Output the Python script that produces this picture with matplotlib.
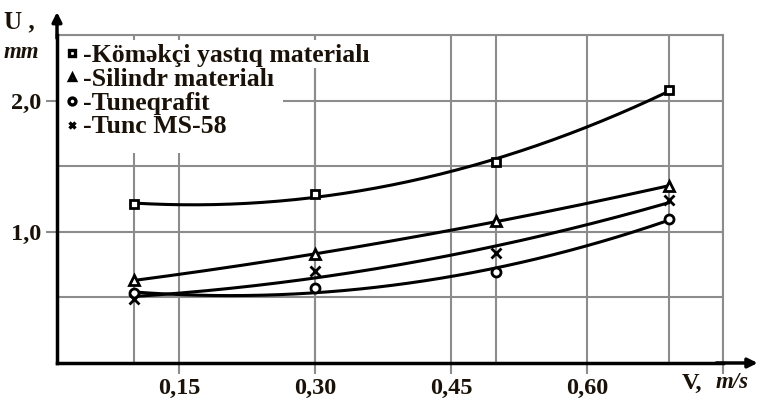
import numpy as np
import matplotlib.pyplot as plt
from matplotlib.lines import Line2D
from matplotlib.patches import Rectangle

plt.rcParams['font.family'] = ['Liberation Serif', 'DejaVu Serif']
plt.rcParams['font.weight'] = 'bold'

# sliding speed, m/s
speed = [0.10, 0.30, 0.50, 0.69]

# wear U, mm
wear_pad = [1.21, 1.29, 1.53, 2.08]
wear_cylinder = [0.63, 0.83, 1.08, 1.35]
wear_graphite = [0.53, 0.57, 0.69, 1.10]
wear_bronze = [0.49, 0.70, 0.84, 1.24]

labels = ['Kömәkçi yastıq materialı', 'Silindr materialı', 'Tuneqrafit', 'Tunc MS-58']
markers = ['s', '^', 'o', 'x']
series = [wear_pad, wear_cylinder, wear_graphite, wear_bronze]

xticks = [0.15, 0.30, 0.45, 0.60]
xtick_labels = ['0,15', '0,30', '0,45', '0,60']
yticks = [1.0, 2.0]
ytick_labels = ['1,0', '2,0']

ink = '#1a1208'
grid_c = '#8c8c8c'

fig = plt.figure(figsize=(7.67, 4.03), dpi=100)
ax = fig.add_axes([57 / 767, 40 / 403, 666 / 767, 328 / 403])
ax.set_xlim(0.015, 0.75)
ax.set_ylim(0, 2.5)

# grid: at the tick values and at the measured speeds
for x in xticks + [0.75]:
    ax.axvline(x, color=grid_c, lw=1.5, zorder=1)
for x in speed:
    ax.axvline(x, color=grid_c, lw=1.5, zorder=1)
for y in [0.5, 1.0, 1.5, 2.0, 2.5]:
    ax.axhline(y, color=grid_c, lw=1.5, zorder=1)

# white area behind the legend
ax.add_patch(Rectangle((0, 0.64), 0.339, 0.345, transform=ax.transAxes,
                       facecolor='white', edgecolor='none', zorder=2))
ax.add_patch(Rectangle((0.339, 0.899), 0.134, 0.086, transform=ax.transAxes,
                       facecolor='white', edgecolor='none', zorder=2))

# fitted curves with the measured points
xs = np.linspace(speed[0], speed[-1], 200)
handles = []
for vals, m, lab in zip(series, markers, labels):
    coef = np.polyfit(speed, vals, 2)
    ax.plot(xs, np.polyval(coef, xs), color='black', lw=2.2, zorder=3)
    ax.plot(speed, vals, linestyle='none', marker=m, ms=6.5 if m != 's' else 5.5,
            mfc='white', mec='black', mew=2, zorder=4)
    handles.append(Line2D([], [], linestyle='none', marker=m, ms=5,
                          mfc='white', mec='black', mew=2.4))

leg = ax.legend(handles, ['-' + l for l in labels], loc='upper left',
                bbox_to_anchor=(0.014, 0.972), frameon=False, fontsize=18.5,
                handlelength=0.45, handletextpad=0.2, labelspacing=0.03,
                borderpad=0, borderaxespad=0)
for t in leg.get_texts():
    t.set_color(ink)
leg.set_zorder(5)

# axes frame
for s in ['top', 'right']:
    ax.spines[s].set_color(grid_c)
    ax.spines[s].set_linewidth(1.5)
for s in ['left', 'bottom']:
    ax.spines[s].set_color('black')
    ax.spines[s].set_linewidth(2.5)
    ax.spines[s].set_zorder(6)

ax.annotate('', xy=(0, 1.07), xytext=(0, 0.99), xycoords='axes fraction',
            arrowprops=dict(arrowstyle='-|>', color='black', lw=2.5,
                            mutation_scale=14, shrinkA=0, shrinkB=0))
ax.annotate('', xy=(1.052, 0), xytext=(0.99, 0), xycoords='axes fraction',
            arrowprops=dict(arrowstyle='-|>', color='black', lw=2.5,
                            mutation_scale=14, shrinkA=0, shrinkB=0))

ax.set_xticks(xticks + [0.75])
ax.set_xticklabels(xtick_labels + [''])
ax.set_yticks(yticks)
ax.set_yticklabels(ytick_labels)
ax.tick_params(axis='both', direction='out', length=8, width=1.5,
               color=grid_c, labelsize=17.5, labelcolor=ink, pad=3)

fig.text(4 / 767, 1 - 22 / 403, 'U ,', fontsize=18, color=ink, va='center')
fig.text(4 / 767, 1 - 53 / 403, 'mm', fontsize=16.5, style='italic',
         color=ink, va='center')
fig.text(682 / 767, 1 - 383 / 403, 'V,', fontsize=17.5, color=ink, va='center')
fig.text(716 / 767, 1 - 383 / 403, 'm/s', fontsize=16.5, style='italic',
         color=ink, va='center')

fig.savefig('out.png', dpi=100)
